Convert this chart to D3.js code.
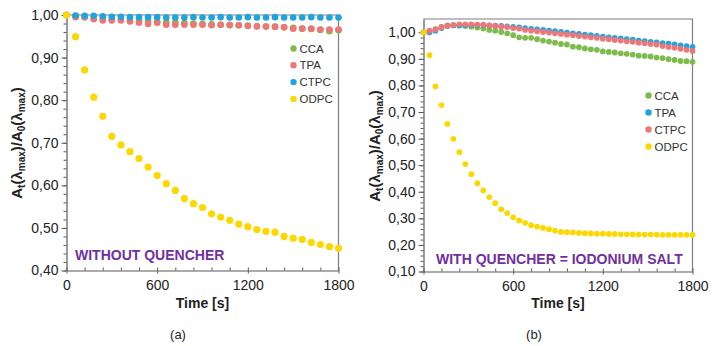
<!DOCTYPE html>
<html>
<head>
<meta charset="utf-8">
<script src="https://cdn.jsdelivr.net/npm/d3@7"></script>
<style>
  body { margin: 0; background: #fff; }
  svg { font-family: "Liberation Sans", Arial, sans-serif; }
</style>
</head>
<body>
<div id="chart"></div>
<script>
// series names and colours (legend order)
const seriesA = ["CCA", "TPA", "CTPC", "ODPC"];
const seriesB = ["CCA", "TPA", "CTPC", "ODPC"];
const colorsA = { CCA: "#7dbb4a", TPA: "#ef7676", CTPC: "#22a3e0", ODPC: "#fdd700" };
const colorsB = { CCA: "#7dbb4a", TPA: "#22a3e0", CTPC: "#ef7676", ODPC: "#fdd700" };

// panel (a) - without quencher, one reading each 60 s
const timeA = [0, 60, 120, 180, 240, 300, 360, 420, 480, 540, 600, 660, 720, 780, 840, 900,
  960, 1020, 1080, 1140, 1200, 1260, 1320, 1380, 1440, 1500, 1560, 1620, 1680, 1740, 1800];
const ccaA = [1.000, 0.997, 0.995, 0.993, 0.991, 0.990, 0.989, 0.987, 0.986, 0.985, 0.984, 0.983, 0.982, 0.981, 0.980, 0.979,
  0.978, 0.977, 0.976, 0.976, 0.975, 0.974, 0.973, 0.972, 0.971, 0.970, 0.968, 0.967, 0.965, 0.962, 0.964];
const tpaA = [1.000, 0.995, 0.995, 0.990, 0.987, 0.987, 0.987, 0.985, 0.982, 0.979, 0.982, 0.977, 0.977, 0.977, 0.977, 0.977,
  0.976, 0.977, 0.977, 0.976, 0.974, 0.973, 0.973, 0.973, 0.971, 0.968, 0.968, 0.968, 0.966, 0.966, 0.966];
const ctpcA = [1.000, 0.999, 0.998, 0.998, 0.997, 0.996, 0.996, 0.995, 0.995, 0.995, 0.995, 0.994, 0.994, 0.994, 0.995, 0.994,
  0.994, 0.995, 0.994, 0.994, 0.995, 0.994, 0.994, 0.995, 0.994, 0.994, 0.994, 0.995, 0.994, 0.994, 0.994];
const odpcA = [1.000, 0.949, 0.871, 0.807, 0.762, 0.715, 0.695, 0.679, 0.663, 0.643, 0.623, 0.604, 0.588, 0.569, 0.557, 0.548,
  0.533, 0.525, 0.518, 0.509, 0.503, 0.496, 0.492, 0.490, 0.480, 0.476, 0.473, 0.466, 0.461, 0.456, 0.452];

// panel (b) - with iodonium salt, one reading each 40 s
const timeB = [0, 40, 80, 120, 160, 200, 240, 280, 320, 360, 400, 440, 480, 520, 560, 600,
  640, 680, 720, 760, 800, 840, 880, 920, 960, 1000, 1040, 1080, 1120, 1160, 1200,
  1240, 1280, 1320, 1360, 1400, 1440, 1480, 1520, 1560, 1600, 1640, 1680, 1720, 1760, 1800];
const ccaB = [1.000, 1.004, 1.012, 1.020, 1.026, 1.027, 1.026, 1.024, 1.021, 1.018, 1.014, 1.009, 1.006, 1.001, 0.996, 0.989,
  0.981, 0.979, 0.979, 0.974, 0.969, 0.965, 0.961, 0.956, 0.954, 0.946, 0.944, 0.939, 0.936, 0.934, 0.928,
  0.926, 0.924, 0.921, 0.919, 0.916, 0.912, 0.911, 0.909, 0.905, 0.903, 0.899, 0.896, 0.892, 0.891, 0.889];
const tpaB = [1.000, 1.000, 1.006, 1.016, 1.024, 1.026, 1.026, 1.026, 1.027, 1.027, 1.027, 1.026, 1.025, 1.024, 1.022, 1.020,
  1.018, 1.016, 1.013, 1.011, 1.009, 1.006, 1.004, 1.001, 0.999, 0.996, 0.994, 0.991, 0.989, 0.986, 0.984,
  0.981, 0.979, 0.977, 0.974, 0.972, 0.969, 0.967, 0.964, 0.962, 0.959, 0.957, 0.954, 0.951, 0.948, 0.945];
const ctpcB = [1.000, 1.006, 1.011, 1.019, 1.024, 1.027, 1.030, 1.030, 1.030, 1.029, 1.029, 1.026, 1.024, 1.021, 1.020, 1.016,
  1.014, 1.009, 1.006, 1.004, 1.001, 0.999, 0.996, 0.994, 0.991, 0.989, 0.986, 0.984, 0.981, 0.979, 0.976,
  0.974, 0.971, 0.969, 0.966, 0.964, 0.961, 0.959, 0.956, 0.954, 0.948, 0.945, 0.942, 0.938, 0.934, 0.930];
const odpcB = [1.000, 0.914, 0.796, 0.726, 0.655, 0.599, 0.549, 0.504, 0.466, 0.432, 0.405, 0.380, 0.357, 0.334, 0.320, 0.304,
  0.292, 0.283, 0.274, 0.269, 0.264, 0.259, 0.254, 0.249, 0.248, 0.247, 0.245, 0.244, 0.243, 0.242, 0.242,
  0.241, 0.241, 0.240, 0.240, 0.240, 0.239, 0.239, 0.239, 0.239, 0.238, 0.238, 0.238, 0.238, 0.238, 0.238];

// axis ticks
const xTicks = [0, 600, 1200, 1800];
const yTicksA = [0.40, 0.50, 0.60, 0.70, 0.80, 0.90, 1.00];
const yTicksB = [0.10, 0.20, 0.30, 0.40, 0.50, 0.60, 0.70, 0.80, 0.90, 1.00];

const fmt = v => d3.format(".2f")(v).replace(".", ",");

const svg = d3.select("#chart")
  .append("svg")
  .attr("width", 715)
  .attr("height", 346);

function drawPanel(p) {
  const g = svg.append("g");

  const x = d3.scaleLinear().domain([0, 1800]).range([p.left, p.right]);
  const y = d3.scaleLinear().domain(p.yDomain).range([p.bottom, p.top]);

  // frame (top + right)
  g.append("path")
    .attr("d", `M${p.left},${p.top}H${p.right}V${p.bottom}`)
    .attr("fill", "none")
    .attr("stroke", "#7f7f7f")
    .attr("stroke-width", 1.2);

  // minor y ticks
  const minorY = d3.range(Math.round(p.yDomain[0] * 50), Math.round(p.yMax * 50) + 1).map(d => d / 50);
  g.append("g")
    .attr("transform", `translate(${p.left},0)`)
    .call(d3.axisLeft(y).tickValues(minorY).tickSize(3).tickFormat(""))
    .call(a => a.select(".domain").remove())
    .selectAll("line").attr("stroke", "#595959");

  // major y axis
  const yAxis = g.append("g")
    .attr("transform", `translate(${p.left},0)`)
    .call(d3.axisLeft(y).tickValues(p.yTicks).tickSize(5).tickPadding(3).tickFormat(fmt).tickSizeOuter(0));
  yAxis.select(".domain").attr("stroke", "#595959").attr("stroke-width", 1.2);
  yAxis.selectAll("line").attr("stroke", "#595959");
  yAxis.selectAll("text").attr("font-size", 14).attr("fill", "#222");

  // minor x ticks (inside)
  g.append("g")
    .attr("transform", `translate(0,${p.bottom})`)
    .call(d3.axisBottom(x).tickValues(d3.range(0, 1801, 120)).tickSize(-3).tickFormat(""))
    .call(a => a.select(".domain").remove())
    .selectAll("line").attr("stroke", "#595959");

  // major x axis
  const xAxis = g.append("g")
    .attr("transform", `translate(0,${p.bottom})`)
    .call(d3.axisBottom(x).tickValues(xTicks).tickSize(3).tickPadding(7).tickFormat(d => String(d)).tickSizeOuter(0));
  xAxis.select(".domain").attr("stroke", "#595959").attr("stroke-width", 1.2);
  xAxis.selectAll("line").attr("stroke", "#595959");
  xAxis.selectAll("text").attr("font-size", 14).attr("fill", "#222");

  // points
  p.series.forEach(name => {
    const vals = p.values[name];
    g.append("g")
      .selectAll("circle")
      .data(p.time.map((t, i) => ({ t, v: vals[i] })))
      .join("circle")
      .attr("cx", d => x(d.t))
      .attr("cy", d => y(d.v))
      .attr("r", name === "ODPC" ? p.rBig : p.r)
      .attr("fill", p.colors[name]);
  });

  // legend
  p.series.forEach((name, i) => {
    const ly = p.legendY + i * p.legendStep;
    g.append("circle")
      .attr("cx", p.legendX)
      .attr("cy", ly)
      .attr("r", 3.2)
      .attr("fill", p.colors[name]);
    g.append("text")
      .attr("x", p.legendX + 6)
      .attr("y", ly + 4)
      .attr("font-size", 11.5)
      .attr("fill", "#333")
      .text(name);
  });

  // annotation
  g.append("text")
    .attr("x", p.noteX)
    .attr("y", p.noteY)
    .attr("font-size", 14)
    .attr("font-weight", "bold")
    .attr("fill", "#7030a0")
    .text(p.note);

  // x title
  g.append("text")
    .attr("x", (p.left + p.right) / 2)
    .attr("y", 308)
    .attr("text-anchor", "middle")
    .attr("font-size", 14)
    .attr("font-weight", "bold")
    .attr("fill", "#222")
    .text("Time [s]");

  // y title
  const yt = g.append("text")
    .attr("transform", `translate(${p.yTitleX},${p.yTitleY}) rotate(-90)`)
    .attr("text-anchor", "middle")
    .attr("font-size", 15)
    .attr("font-weight", "bold")
    .attr("fill", "#222");
  yt.append("tspan").text("A");
  yt.append("tspan").attr("font-size", 10).attr("dy", 3).text("t");
  yt.append("tspan").attr("dy", -3).text("(λ");
  yt.append("tspan").attr("font-size", 10).attr("dy", 3).text("max");
  yt.append("tspan").attr("dy", -3).text(")/A");
  yt.append("tspan").attr("font-size", 10).attr("dy", 3).text("0");
  yt.append("tspan").attr("dy", -3).text("(λ");
  yt.append("tspan").attr("font-size", 10).attr("dy", 3).text("max");
  yt.append("tspan").attr("dy", -3).text(")");

  // panel label
  g.append("text")
    .attr("x", p.labelX)
    .attr("y", 339)
    .attr("text-anchor", "middle")
    .attr("font-size", 13)
    .attr("fill", "#222")
    .text(p.label);
}

drawPanel({
  left: 66.5, right: 338.5, top: 15, bottom: 270.5,
  yDomain: [0.40, 1.00], yMax: 1.00, yTicks: yTicksA,
  time: timeA,
  series: seriesA,
  values: { CCA: ccaA, TPA: tpaA, CTPC: ctpcA, ODPC: odpcA },
  colors: colorsA,
  r: 3.3, rBig: 3.6,
  legendX: 293.5, legendY: 48.5, legendStep: 16.8,
  note: "WITHOUT QUENCHER", noteX: 75, noteY: 260,
  yTitleX: 22, yTitleY: 143,
  label: "(a)", labelX: 178
});

drawPanel({
  left: 423.5, right: 692.5, top: 19, bottom: 271.5,
  yDomain: [0.10, 1.05], yMax: 1.00, yTicks: yTicksB,
  time: timeB,
  series: seriesB,
  values: { CCA: ccaB, TPA: tpaB, CTPC: ctpcB, ODPC: odpcB },
  colors: colorsB,
  r: 2.9, rBig: 2.9,
  legendX: 648.5, legendY: 95.5, legendStep: 17,
  note: "WITH QUENCHER = IODONIUM SALT", noteX: 436, noteY: 264,
  yTitleX: 380, yTitleY: 146,
  label: "(b)", labelX: 534
});
</script>
</body>
</html>
